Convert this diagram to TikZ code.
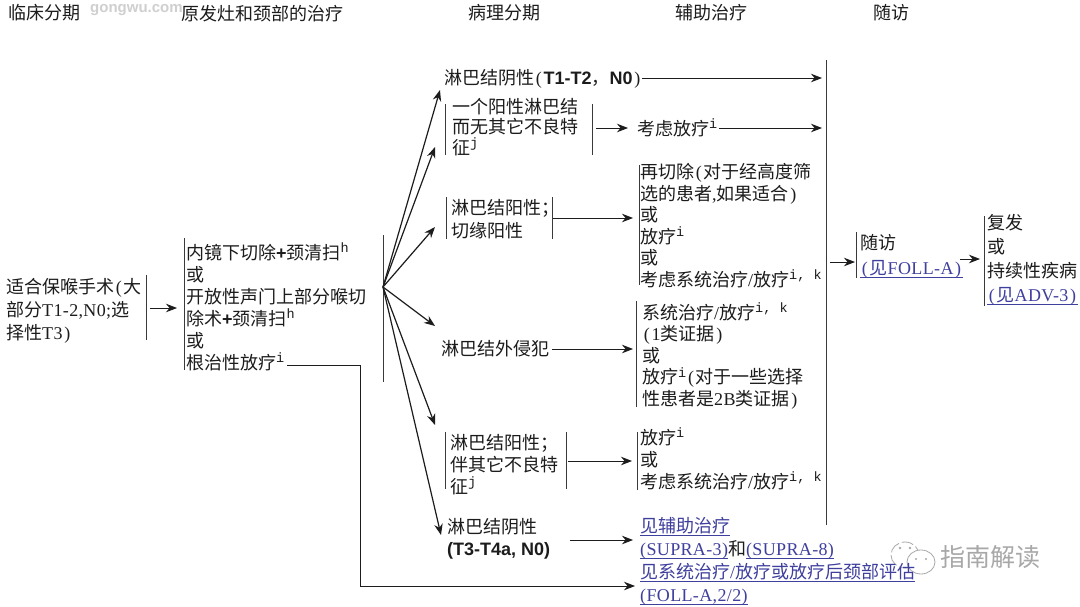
\documentclass[tikz,border=0pt]{standalone}
\usepackage{fontspec}
\usetikzlibrary{arrows.meta}
\setmainfont{Noto Sans CJK SC}
\newfontfamily\monof[LetterSpace=2]{Liberation Serif}
\newfontfamily\supf{Liberation Mono}
\newfontfamily\arialf{Liberation Sans}
\newcommand{\mn}[1]{{\monof #1}}
\newcommand{\bd}[1]{{\arialf\bfseries #1}}
\newcommand{\su}[1]{\raisebox{6.5pt}{\fontsize{13.5}{14}\supf #1}}
\newcommand{\lk}[1]{\underline{\smash{#1}\rule[-1.6pt]{0pt}{10pt}}}
\newcommand{\lp}{\makebox[9.5pt]{\monof(}}
\newcommand{\rp}{\makebox[9.5pt]{\monof)}}
\definecolor{ink}{HTML}{1C1C1C}
\definecolor{rulec}{HTML}{3A3A3A}
\definecolor{linkc}{HTML}{3F3F9E}
\definecolor{wm}{HTML}{A8A8A8}
\tikzset{
  x=1pt,y=-1pt,
  txt/.style={anchor=north west,inner sep=0pt,align=left,text=ink,
    font=\fontsize{18}{#1}\selectfont,execute at begin node=\strut},
  txt/.default=22,
  linktxt/.style={txt=#1,text=linkc},
  linktxt/.default=22,
  head/.style={anchor=west,inner sep=0pt,text=ink,font=\fontsize{18}{22}\selectfont},
  vbar/.style={draw=rulec,line width=1pt},
  arr/.style={draw=ink,line width=.9pt,-{Stealth[length=11pt,width=8.5pt]}},
  fanarr/.style={arr,line width=1.2pt},
}
\begin{document}
\begin{tikzpicture}
\useasboundingbox (0,0) rectangle (1080,606);
\fill[white] (0,0) rectangle (1080,606);

% watermark
\node[anchor=west,inner sep=0pt,text=wm!55,font=\arialf\bfseries\fontsize{15}{18}\selectfont] (wmsite) at (90,10) {gongwu.com};
\node[anchor=west,inner sep=0pt,text=wm,font=\fontsize{25}{28}\selectfont] (wmtext) at (940,557) {指南解读};
\draw[wm,line width=.8pt,dash pattern=on 12pt off 3pt] (905,555) ellipse (14 and 13);
\draw[wm,line width=.8pt,fill=white] (921,562) ellipse (14 and 12);
\fill[wm] (900,548) circle (1.4) (910,548) circle (1.4) (916,559) circle (1.2) (926,559) circle (1.2);

% headers
\node[head] (h1) at (8,13) {临床分期};
\node[head] (h2) at (181,14) {原发灶和颈部的治疗};
\node[head] (h3) at (468,13) {病理分期};
\node[head] (h4) at (675,13) {辅助治疗};
\node[head] (h5) at (873,13) {随访};

% left columns
\node[txt=23] (stage) at (6,278) {适合保喉手术\lp 大\\部分\mn{T1-2,N0;}选\\择性\mn{T3}\rp};
\node[txt] (treat) at (186,243) {内镜下切除\bd{+}颈清扫\su{h}\\或\\开放性声门上部分喉切\\除术\bd{+}颈清扫\su{h}\\或\\根治性放疗\su{i}};

% pathology column
\node[txt] (p1) at (444,69) {淋巴结阴性\lp\bd{T1-T2}，\bd{N0}\rp};
\node[txt=20.5] (p2) at (452,98) {一个阳性淋巴结\\而无其它不良特\\征\su{j}};
\node[txt=23] (p3) at (451,199) {淋巴结阳性；\\切缘阳性};
\node[txt] (p4) at (441,340) {淋巴结外侵犯};
\node[txt] (p5) at (450,434) {淋巴结阳性；\\伴其它不良特\\征\su{j}};
\node[txt] (p6) at (447,518) {淋巴结阴性\\\bd{(T3-T4a, N0)}};

% adjuvant column
\node[txt] (a2) at (637,119) {考虑放疗\su{i}};
\node[txt=21.6] (a3) at (640,163) {再切除\lp 对于经高度筛\\选的患者\mn{,}如果适合\rp\\或\\放疗\su{i}\\或\\考虑系统治疗\mn{/}放疗\su{i, k}};
\node[txt=21.5] (a4) at (642,303) {系统治疗\mn{/}放疗\su{i, k}\\\lp\mn{1}类证据\rp\\或\\放疗\su{i}\lp 对于一些选择\\性患者是\mn{2B}类证据\rp};
\node[txt=22] (a5) at (640,428) {放疗\su{i}\\或\\考虑系统治疗\mn{/}放疗\su{i, k}};
\node[linktxt=23] (a6) at (640,524) {\lk{见辅助治疗}\\\lk{\mn{(SUPRA-3)}}\textcolor{ink}{和}\lk{\mn{(SUPRA-8)}}\\\lk{见系统治疗\mn{/}放疗或放疗后颈部评估}\\\lk{\mn{(FOLL-A,2/2)}}};

% follow-up
\node[txt=25] (f1) at (860,234) {随访\\\textcolor{linkc}{\lk{\lp 见\mn{FOLL-A}\rp}}};
\node[txt=24] (f2) at (987,214) {复发\\或\\持续性疾病\\\textcolor{linkc}{\lk{\lp 见\mn{ADV-3}\rp}}};

% coordinates: bars
\coordinate (b1a) at (146,275); \coordinate (b1b) at (146,340);
\coordinate (b2a) at (184,238); \coordinate (b2b) at (184,370);
\coordinate (b3a) at (383,235); \coordinate (b3b) at (383,382);
\coordinate (p2la) at (445,104); \coordinate (p2lb) at (445,155);
\coordinate (p2ra) at (592,104); \coordinate (p2rb) at (592,155);
\coordinate (p3la) at (446,197); \coordinate (p3lb) at (446,239);
\coordinate (p3ra) at (552,197); \coordinate (p3rb) at (552,239);
\coordinate (a3a) at (639,165); \coordinate (a3b) at (639,285);
\coordinate (a4a) at (636,301); \coordinate (a4b) at (636,407);
\coordinate (p5la) at (445,432); \coordinate (p5lb) at (445,489);
\coordinate (p5ra) at (566,432); \coordinate (p5rb) at (566,489);
\coordinate (a5a) at (637,432); \coordinate (a5b) at (637,490);
\coordinate (fua) at (826,60); \coordinate (fub) at (826,525);
\coordinate (f1a) at (856,232); \coordinate (f1b) at (856,278);
\coordinate (f2a) at (984,216); \coordinate (f2b) at (984,306);
\foreach \u/\v in {b1a/b1b,b2a/b2b,b3a/b3b,p2la/p2lb,p2ra/p2rb,p3la/p3lb,p3ra/p3rb,a3a/a3b,a4a/a4b,p5la/p5lb,p5ra/p5rb,a5a/a5b,fua/fub,f1a/f1b,f2a/f2b}
  \draw[vbar] (\u) -- (\v);

% connectors
\coordinate (s1) at (150,308); \coordinate (s2) at (177,308);
\draw[arr] (s1) -- (s2);

\coordinate (fan) at (383,287);
\coordinate (t1) at (440,90); \coordinate (t2) at (435,147); \coordinate (t3) at (435,227);
\coordinate (t4) at (435,326); \coordinate (t5) at (435,425); \coordinate (t6) at (441,535);
\foreach \t in {t1,t2,t3,t4,t5,t6} \draw[fanarr] (fan) -- (\t);

\coordinate (c1a) at (642,78); \coordinate (c1b) at (822,78);
\draw[arr] (c1a) -- (c1b);
\coordinate (c2a) at (596,128); \coordinate (c2b) at (628,128);
\draw[arr] (c2a) -- (c2b);
\coordinate (c3a) at (719,128); \coordinate (c3b) at (822,128);
\draw[arr] (c3a) -- (c3b);
\coordinate (c4a) at (553,218); \coordinate (c4b) at (633,218);
\draw[arr] (c4a) -- (c4b);
\coordinate (c5a) at (552,349); \coordinate (c5b) at (633,349);
\draw[arr] (c5a) -- (c5b);
\coordinate (c6a) at (568,461); \coordinate (c6b) at (632,461);
\draw[arr] (c6a) -- (c6b);
\coordinate (c7a) at (570,540); \coordinate (c7b) at (633,540);
\draw[arr] (c7a) -- (c7b);
\coordinate (d0) at (287,365); \coordinate (d1) at (360,365);
\coordinate (d2) at (360,586); \coordinate (d3) at (635,586);
\draw[arr] (d0) -- (d1) -- (d2) -- (d3);
\coordinate (e1) at (830,262); \coordinate (e2) at (855,262);
\draw[arr] (e1) -- (e2);
\coordinate (g1) at (960,259); \coordinate (g2) at (980,259);
\draw[arr] (g1) -- (g2);
\end{tikzpicture}
\end{document}
